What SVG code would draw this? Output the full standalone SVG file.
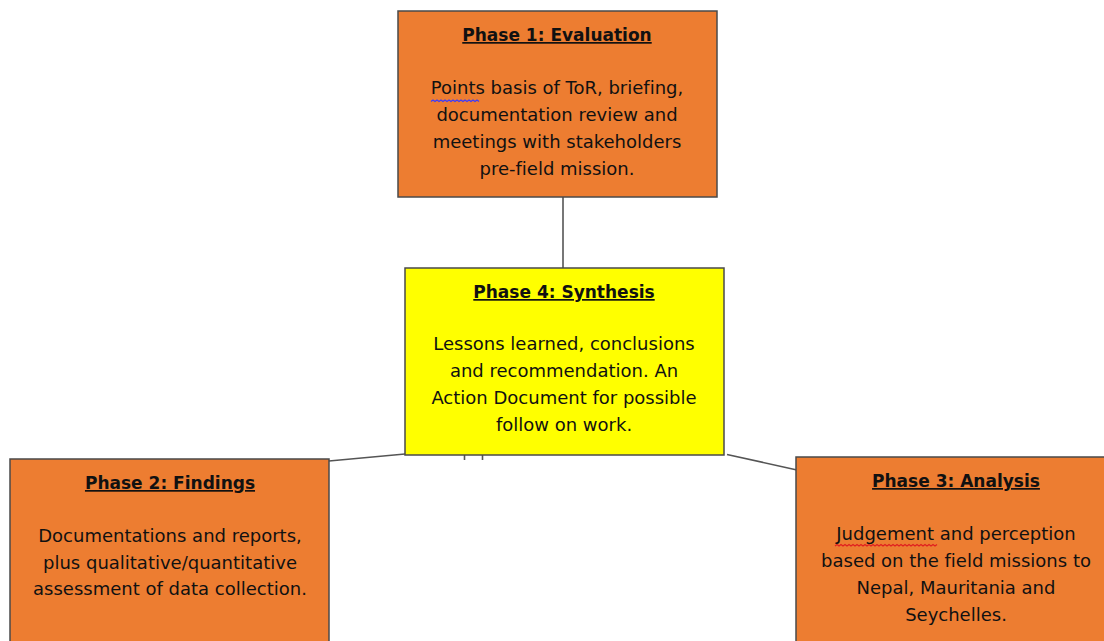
<svg xmlns="http://www.w3.org/2000/svg" width="1104" height="641" viewBox="0 0 1104 641">
  <style>
    .box { stroke: #4a4a4a; stroke-width: 1.5; }
    .orange { fill: #ED7D31; }
    .yellow { fill: #FFFF00; }
    .title { font-family: "DejaVu Sans", sans-serif; font-size: 17px; font-weight: bold; fill: #111; text-anchor: middle; text-decoration: underline; }
    .body { font-family: "DejaVu Sans", sans-serif; font-size: 18px; fill: #111; text-anchor: middle; font-variant-ligatures: none; }
    .link { stroke: #555; stroke-width: 1.6; fill: none; }
    .squiggle { fill: none; stroke-width: 1.2; }
  </style>
  <rect width="1104" height="641" fill="#ffffff"/>

  <g id="connectors">
    <line class="link" x1="563" y1="197" x2="563" y2="268"/>
    <line class="link" x1="329" y1="461" x2="405" y2="454"/>
    <line class="link" x1="727" y1="454.5" x2="797" y2="470"/>
    <line class="link" x1="464.5" y1="455" x2="464.5" y2="460"/>
    <line class="link" x1="482.5" y1="455" x2="482.5" y2="460"/>
  </g>

  <g id="phase1">
    <rect class="box orange" x="398" y="11" width="319" height="186"/>
    <text class="title" x="557" y="41">Phase 1: Evaluation</text>
    <text class="body" x="557" y="94">Points basis of ToR, briefing,</text>
    <text class="body" x="557" y="121">documentation review and</text>
    <text class="body" x="557" y="148">meetings with stakeholders</text>
    <text class="body" x="557" y="175">pre-field mission.</text>
    <!-- spell-check underline beneath "Points" -->
    <path class="squiggle" stroke="#3a3aff" d="M431 101.5 l2 -1.5 l2 1.5 l2 -1.5 l2 1.5 l2 -1.5 l2 1.5 l2 -1.5 l2 1.5 l2 -1.5 l2 1.5 l2 -1.5 l2 1.5 l2 -1.5 l2 1.5 l2 -1.5 l2 1.5 l2 -1.5 l2 1.5 l2 -1.5 l2 1.5 l2 -1.5 l2 1.5 l2 -1.5 l2 1.5"/>
  </g>

  <g id="phase4">
    <rect class="box yellow" x="405" y="268" width="319" height="187"/>
    <text class="title" x="564" y="298">Phase 4: Synthesis</text>
    <text class="body" x="564" y="350">Lessons learned, conclusions</text>
    <text class="body" x="564" y="377">and recommendation. An</text>
    <text class="body" x="564" y="404">Action Document for possible</text>
    <text class="body" x="564" y="431">follow on work.</text>
  </g>

  <g id="phase2">
    <rect class="box orange" x="10" y="459" width="319" height="190"/>
    <text class="title" x="170" y="489">Phase 2: Findings</text>
    <text class="body" x="170" y="542">Documentations and reports,</text>
    <text class="body" x="170" y="569">plus qualitative/quantitative</text>
    <text class="body" x="170" y="595">assessment of data collection.</text>
  </g>

  <g id="phase3">
    <rect class="box orange" x="796" y="457" width="320" height="192"/>
    <text class="title" x="956" y="487">Phase 3: Analysis</text>
    <text class="body" x="956" y="540">Judgement and perception</text>
    <text class="body" x="956" y="567">based on the field missions to</text>
    <text class="body" x="956" y="594">Nepal, Mauritania and</text>
    <text class="body" x="956" y="621">Seychelles.</text>
    <!-- spell-check underline beneath "Judgement" -->
    <path class="squiggle" stroke="#e02020" d="M835 546 l2 -1.5 l2 1.5 l2 -1.5 l2 1.5 l2 -1.5 l2 1.5 l2 -1.5 l2 1.5 l2 -1.5 l2 1.5 l2 -1.5 l2 1.5 l2 -1.5 l2 1.5 l2 -1.5 l2 1.5 l2 -1.5 l2 1.5 l2 -1.5 l2 1.5 l2 -1.5 l2 1.5 l2 -1.5 l2 1.5 l2 -1.5 l2 1.5 l2 -1.5 l2 1.5 l2 -1.5 l2 1.5 l2 -1.5 l2 1.5 l2 -1.5 l2 1.5 l2 -1.5 l2 1.5 l2 -1.5 l2 1.5 l2 -1.5 l2 1.5 l2 -1.5 l2 1.5 l2 -1.5 l2 1.5 l2 -1.5 l2 1.5 l2 -1.5 l2 1.5 l2 -1.5 l2 1.5 l2 -1.5"/>
  </g>
</svg>
